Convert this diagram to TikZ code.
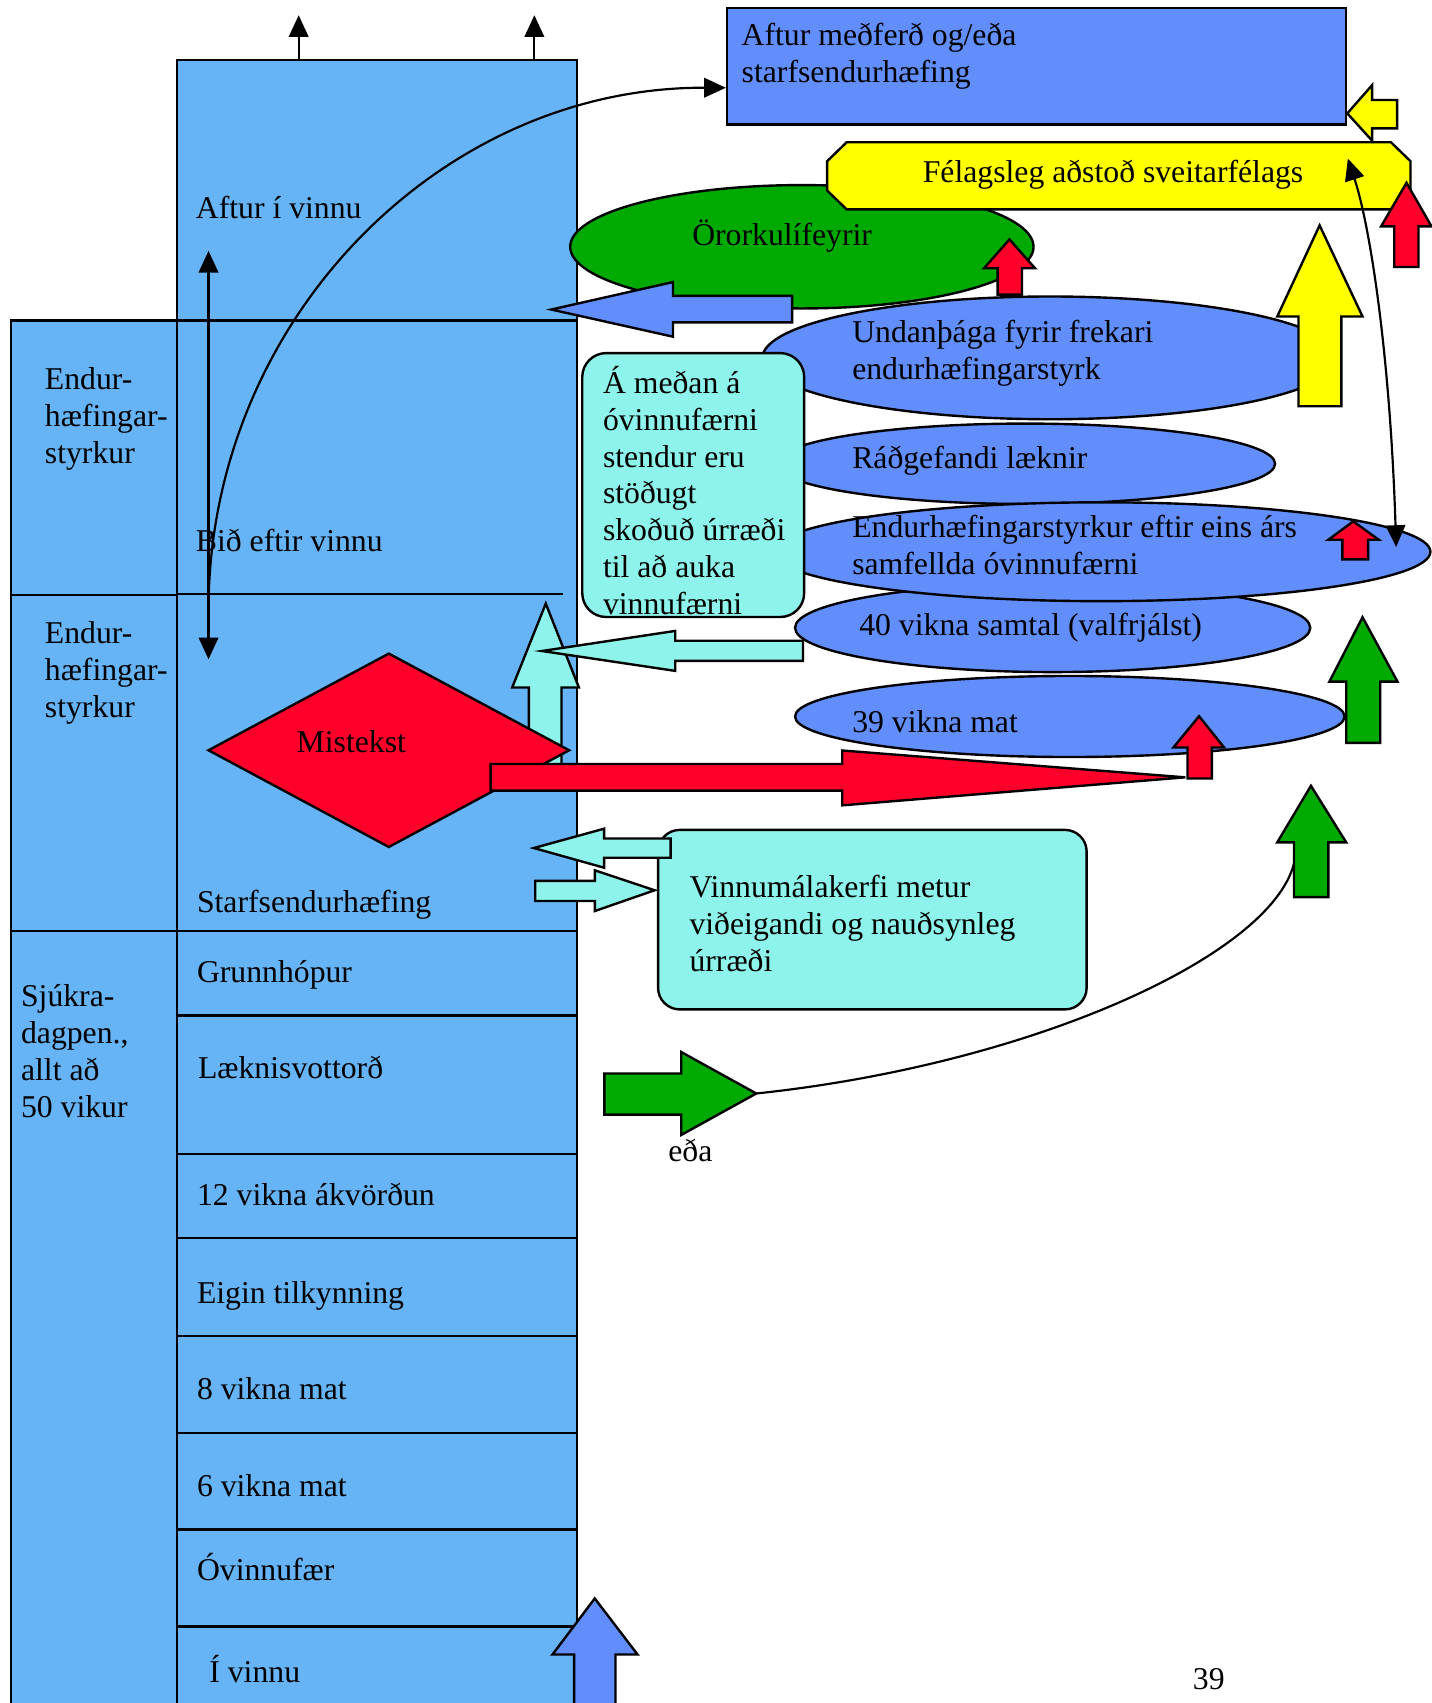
\documentclass[tikz,border=0pt]{standalone}
\usepackage{fontspec}
\setmainfont{Liberation Serif}
\usetikzlibrary{arrows.meta,shapes.geometric,calc}
\definecolor{colblue}{RGB}{102,179,245}
\definecolor{cblue}{RGB}{97,142,251}
\definecolor{cgreen}{RGB}{0,170,0}
\definecolor{cred}{RGB}{255,0,42}
\definecolor{cyel}{RGB}{255,255,0}
\definecolor{ccyan}{RGB}{142,243,234}
\tikzset{
  fnt/.style={font=\fontsize{14.6}{17}\selectfont},
  txt/.style={fnt, inner sep=0, anchor=base west, align=left},
  shp/.style={draw, line width=1.1pt, inner sep=0},
  cell/.style={shp, fill=colblue, anchor=north west, minimum width=184pt},
  lcell/.style={shp, fill=colblue, anchor=north west, minimum width=76.5pt},
  blk/.style={draw, line width=1.1pt, line join=miter},
  thinln/.style={line width=1pt},
}
% up block arrow: color, tipx, tipy, headx1, headx2, heady, shaftx1, shaftx2, bottomy
\newcommand{\blkup}[9]{\draw[blk,fill=#1] (#2,#3) -- (#5,#6) -- (#8,#6) -- (#8,#9) -- (#7,#9) -- (#7,#6) -- (#4,#6) -- cycle;}
% horizontal block arrow: color, tipx, tipy, headbasex, heady1, heady2, shafty1, shafty2, tailx
\newcommand{\blkh}[9]{\draw[blk,fill=#1] (#2,#3) -- (#4,#5) -- (#4,#7) -- (#9,#7) -- (#9,#8) -- (#4,#8) -- (#4,#6) -- cycle;}
\begin{document}
\begin{tikzpicture}[x=0.5pt,y=-0.5pt,>={Triangle[length=10pt,width=9pt]}]
\path[use as bounding box] (0,0) rectangle (1318,1568);

% ---- main column ----
\node[cell, minimum height=120pt] (cTop) at (162,54) {};
\node[cell, minimum height=281pt] (cMid) at (162,294) {};
\node[cell, minimum height=39pt] (cGrunn) at (162,856) {};
\node[cell, minimum height=63.75pt] (cLaek) at (162,934) {};
\node[cell, minimum height=38.6pt] (c12) at (162,1061.5) {};
\node[cell, minimum height=45pt] (cEigin) at (162,1138.7) {};
\node[cell, minimum height=44.85pt] (c8) at (162,1228.7) {};
\node[cell, minimum height=44.4pt] (c6) at (162,1318.4) {};
\node[cell, minimum height=44.65pt] (cOvinn) at (162,1407.2) {};
\node[cell, minimum height=42pt] (cIvinnu) at (162,1496.5) {};
% ---- left column ----
\node[lcell, minimum height=126.5pt] (lA) at (9,294) {};
\node[lcell, minimum height=154.5pt] (lB) at (9,547) {};
\node[lcell, minimum height=362pt] (lC) at (9,856) {};
\coordinate (midEnd) at (518,547);
\draw[line width=1.1pt] (lB.north east) -- (midEnd);

% ---- column texts (multi-line nodes: base = last line) ----
\node[txt] (tAftur) at (180,201.3) {Aftur í vinnu};
\node[txt] (tBid) at (180,507.9) {Bið eftir vinnu};
\node[txt] (tStarf) at (181,839.7) {Starfsendurhæfing};
\node[txt] (tGrunn) at (181,904.2) {Grunnhópur};
\node[txt] (tLaek) at (182,993.3) {Læknisvottorð};
\node[txt] (t12) at (181,1110.2) {12 vikna ákvörðun};
\node[txt] (tEigin) at (181,1199.9) {Eigin tilkynning};
\node[txt] (t8) at (181,1288.7) {8 vikna mat};
\node[txt] (t6) at (181,1377.5) {6 vikna mat};
\node[txt] (tOv) at (181,1455.1) {Óvinnufær};
\node[txt] (tIv) at (192.4,1548.9) {Í vinnu};
\node[txt] (tEnd1) at (41,426.4) {Endur-\\hæfingar-\\styrkur};
\node[txt] (tEnd2) at (41,660.3) {Endur-\\hæfingar-\\styrkur};
\node[txt] (tSjuk) at (19,1028.5) {Sjúkra-\\dagpen.,\\allt að\\50 vikur};

% ---- top box ----
\node[shp, fill=cblue, anchor=north west, minimum width=284.85pt, minimum height=53.55pt] (medf) at (668.3,6.5) {};
\node[txt] (tMedf) at (682.5,76.3) {Aftur meðferð og/eða\\starfsendurhæfing};

% ---- thin arrows in column ----
\coordinate (up1) at (275,14);
\coordinate (up2) at (492,14);
\draw[thinln,->] (cTop.north -| up1) -- (up1);
\draw[thinln,->] (cTop.north -| up2) -- (up2);
\coordinate (dA) at (192,231);
\coordinate (dB) at (192,607);
\draw[thinln,<->] (dB) -- (dA);
\coordinate (cs) at (192,562);
\draw[thinln,->] (cs) .. controls (192,297) and (404,80) .. ($(medf.north west)!0.68!(medf.south west)$);

% ---- green ellipse and octagon ----
\node[shp, ellipse, fill=cgreen, minimum width=213.3pt, minimum height=56.8pt] (oror) at (738.3,227.2) {};
\node[txt] (tOror) at (637,226.4) {Örorkulífeyrir};
\draw[blk, fill=cyel] (779.5,131) -- (1280.7,131) -- (1298.7,148.5) -- (1298.7,175.3) -- (1280.7,192.8) -- (779.5,192.8) -- (761.5,175.3) -- (761.5,148.5) -- cycle;
\node[fnt, inner sep=0, anchor=base] (felag) at (1024.8,168.2) {Félagsleg aðstoð sveitarfélags};

\blkh{cblue}{507.6}{285}{619.6}{259.7}{310}{272.4}{296.8}{729.3}
\blkup{cred}{929.4}{220.4}{906}{953}{247}{918.5}{941}{271.3}

% ---- blue ellipses ----
\node[shp, ellipse, fill=cblue, minimum width=265pt, minimum height=56.5pt] (undan) at (967,329.5) {};
\node[shp, ellipse, fill=cblue, minimum width=230pt, minimum height=37pt] (radg) at (944,427) {};
\node[shp, ellipse, fill=cblue, minimum width=237.2pt, minimum height=40.8pt] (v40) at (969.2,578) {};
\node[shp, ellipse, fill=cblue, minimum width=303pt, minimum height=45.5pt] (endur) at (1014,508) {};
\node[shp, ellipse, fill=cblue, minimum width=253pt, minimum height=37.3pt] (v39) at (985,659.7) {};
\node[txt] (tUndan) at (784.3,349.6) {Undanþága fyrir frekari\\endurhæfingarstyrk};
\node[txt] (tRadg) at (784.3,431.4) {Ráðgefandi læknir};
\node[txt] (tEndur) at (784.3,529) {Endurhæfingarstyrkur eftir eins árs\\samfellda óvinnufærni};
\node[txt] (t40) at (790.8,585.3) {40 vikna samtal (valfrjálst)};
\node[txt] (t39) at (784.3,674.5) {39 vikna mat};

% ---- right side block arrows ----
\blkup{cyel}{1215}{207.5}{1176}{1254.5}{291.4}{1195.5}{1235}{374}
\blkup{cred}{1295}{168.3}{1271.6}{1318}{208.4}{1283.7}{1306}{245.8}
\blkh{cyel}{1240.5}{104.4}{1263.4}{78.3}{129.6}{92.1}{118.2}{1286.4}
\blkup{cred}{1246}{480}{1223}{1269.5}{497}{1236}{1259.7}{515}
\blkup{cgreen}{1254.5}{568.3}{1224}{1286.7}{627.6}{1239.5}{1270.8}{684}
\blkup{cgreen}{1207}{723.5}{1176}{1239.5}{775.6}{1191.4}{1223}{826}

% ---- cyan box ----
\node[shp, rounded corners=11pt, fill=ccyan, anchor=north west, minimum width=102.15pt, minimum height=121.5pt] (amedan) at (535,324) {};
\node[txt] (tAmedan) at (554.8,566) {Á meðan á\\óvinnufærni\\stendur eru\\stöðugt\\skoðuð úrræði\\til að auka\\vinnufærni};

% ---- cyan arrows, diamond, red arrow ----
\blkup{ccyan}{502.5}{555.7}{471.6}{533}{633}{487}{517}{710}
\blkh{ccyan}{499}{599.4}{621.7}{580.9}{617.7}{590}{608.5}{739.3}
\node[shp, diamond, fill=cred, minimum width=166.5pt, minimum height=89.5pt] (mist) at (358,690.8) {};
\node[txt] (tMist) at (272.8,693) {Mistekst};
\blkh{cred}{1091.3}{715.7}{775.5}{691}{741.5}{703.4}{728}{451.7}
\blkup{cred}{1104}{659.4}{1080.4}{1127}{688.2}{1093.3}{1115.8}{716.8}

% ---- Vinnumalakerfi ----
\node[shp, rounded corners=10pt, fill=ccyan, anchor=north west, minimum width=197.3pt, minimum height=82.65pt] (vinnu) at (604.8,763) {};
\node[txt] (tVinnu) at (634.5,894.3) {Vinnumálakerfi metur\\viðeigandi og nauðsynleg\\úrræði};
\blkh{ccyan}{491.5}{780.8}{556.2}{763}{798.9}{772}{789.7}{617.5}
\blkh{ccyan}{602.7}{819.7}{547.7}{801.3}{838.8}{811}{829.6}{492.8}

% ---- green arrow and curve ----
\blkh{cgreen}{696.3}{1006.8}{627.2}{968.6}{1045}{988.4}{1026.3}{556.5}
\coordinate (gS) at (696.3,1006.8);
\coordinate (gE) at (1191.4,795);
\draw[thinln] (gS) .. controls (950,980) and (1170,880) .. (gE);

% ---- right thin double arrow ----
\coordinate (rA) at (1285.5,503.6);
\coordinate (rB) at (1241,146);
\draw[thinln,<->] (rA) .. controls (1280,330) and (1262,210) .. (rB);

% ---- bottom blue arrow ----
\blkup{cblue}{547.6}{1471.7}{508.7}{587}{1523.3}{528.6}{566.7}{1590}

\node[txt] (eda) at (615,1069) {eða};
\node[txt] (pnum) at (1098,1556) {39};
\end{tikzpicture}
\end{document}
